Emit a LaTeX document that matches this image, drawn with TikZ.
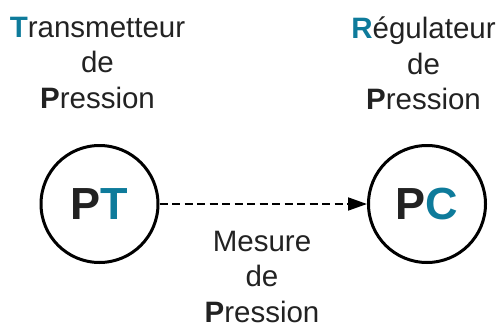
\documentclass[tikz,border=0pt]{standalone}
\usepackage{fontspec}
\setmainfont{Liberation Sans}
\usetikzlibrary{arrows.meta}
\definecolor{teal1}{HTML}{0E7B9B}
\definecolor{ink}{HTML}{222222}
\tikzset{
  lbl/.style={align=center, inner sep=0pt, text=ink, font=\fontsize{29.5}{35.5}\selectfont, anchor=north},
  inst/.style={circle, draw=black, line width=3pt, minimum size=117pt, inner sep=0pt, text=ink, font=\fontsize{45}{45}\selectfont\bfseries},
  sig/.style={dashed, dash pattern=on 8pt off 4.5pt, line width=1.8pt, -{Stealth[length=19pt,width=13pt,inset=0pt]}}
}
\begin{document}
\begin{tikzpicture}[x=1pt,y=-1pt]
\useasboundingbox (0,0) rectangle (503,329);
\node[inst] (pt) at (99.5,204) {P\textcolor{teal1}{T}};
\node[inst] (pc) at (427,204) {P\textcolor{teal1}{C}};
\draw[sig] (pt) -- (pc);
\node[lbl] (tlab) at (97.5,17) {\textbf{\textcolor{teal1}{T}}ransmetteur\\de\\\textbf{P}ression};
\node[lbl] (rlab) at (423.5,17) {\textbf{\textcolor{teal1}{R}}égulateur\\de\\\textbf{P}ression};
\node[lbl] (mlab) at (262,231) {Mesure\\de\\\textbf{P}ression};
\end{tikzpicture}
\end{document}
